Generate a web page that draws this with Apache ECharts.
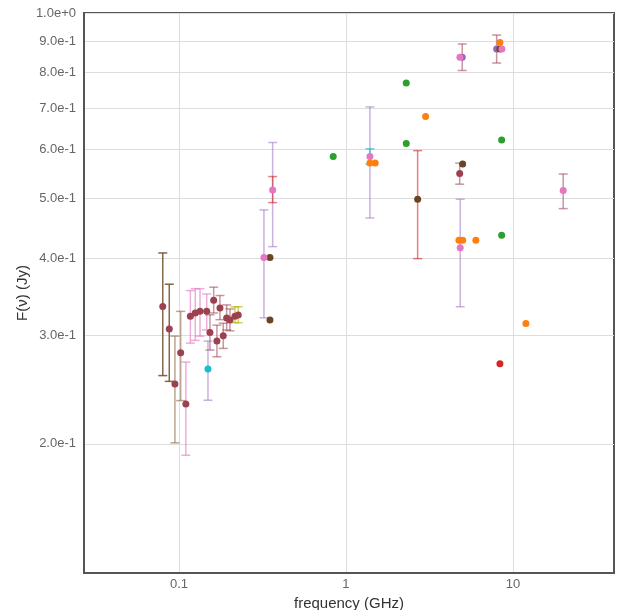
<!DOCTYPE html>
<html>
<head>
<meta charset="utf-8">
<script src="https://cdn.jsdelivr.net/npm/echarts@6/dist/echarts.min.js"></script>
<style>
  html, body { margin: 0; padding: 0; background: #fff; }
  #chart { width: 619px; height: 610px; }
</style>
</head>
<body>
<div id="chart"></div>
<script>
// tick values
var freqTicks = [0.1, 1, 10];
var fluxTicks = [0.2, 0.3, 0.4, 0.5, 0.6, 0.7, 0.8, 0.9, 1.0];

// points [frequency GHz, flux Jy]
var maroonPts = [
  [0.080, 0.334], [0.0875, 0.307], [0.0946, 0.250], [0.1024, 0.281], [0.110, 0.232],
  [0.117, 0.322], [0.1252, 0.326], [0.1337, 0.328], [0.1466, 0.328], [0.1614, 0.342],
  [0.176, 0.332], [0.1533, 0.303], [0.1688, 0.2935], [0.1842, 0.2994], [0.193, 0.320],
  [0.202, 0.3175], [0.2164, 0.322], [0.2265, 0.3235], [4.80, 0.549]
];
var purplePts = [[4.97, 0.848], [7.99, 0.874]];
var brownPts = [[0.3507, 0.401], [0.3507, 0.3175], [2.688, 0.4986], [5.0, 0.569], [8.36, 0.874]];
var pinkPts = [[0.3228, 0.401], [0.364, 0.516], [1.392, 0.585], [4.815, 0.848], [4.835, 0.416], [8.59, 0.874], [20.0, 0.515]];
var greenPts = [[0.839, 0.585], [2.297, 0.770], [2.297, 0.614], [8.56, 0.436], [8.56, 0.622]];
var orangePts = [[1.392, 0.571], [1.497, 0.571], [3.0, 0.679], [4.75, 0.428], [5.0, 0.428], [6.0, 0.428], [8.36, 0.896], [11.96, 0.3135]];
var redPts = [[8.36, 0.2697]];
var cyanPts = [[0.1492, 0.2644]];

// error bars [frequency, low, high]
var brownErr = [[0.080, 0.258, 0.408], [0.0875, 0.2525, 0.363]];
var tanErr = [[0.0946, 0.2007, 0.299], [0.1024, 0.235, 0.328]];
var pinkErr = [
  [0.110, 0.1916, 0.2714], [0.117, 0.2913, 0.3545], [0.1252, 0.2943, 0.357],
  [0.1337, 0.299, 0.357], [0.1466, 0.306, 0.350]
];
var maroonErr = [
  [0.1614, 0.326, 0.359], [0.176, 0.318, 0.348], [0.1533, 0.2838, 0.3238],
  [0.1688, 0.2768, 0.3115], [0.1842, 0.2856, 0.3138], [0.193, 0.306, 0.336],
  [0.202, 0.305, 0.331], [7.99, 0.8296, 0.9209], [4.97, 0.8067, 0.8907],
  [4.80, 0.5275, 0.5706], [20.0, 0.4815, 0.548]
];
var oliveErr = [[0.2164, 0.3144, 0.3337], [0.2265, 0.3144, 0.3337]];
var purpleErr = [
  [0.1492, 0.2353, 0.2935], [0.3228, 0.3202, 0.4791], [0.364, 0.4177, 0.6164],
  [1.392, 0.465, 0.7041], [4.835, 0.3337, 0.4986]
];
var redErr = [[0.364, 0.4924, 0.5428], [2.688, 0.3994, 0.598]];
var cyanErr = [[1.392, 0.5685, 0.602]];

function renderErr(params, api) {
  var x = api.value(0);
  var top = api.coord([x, api.value(2)]);
  var bot = api.coord([x, api.value(1)]);
  var w = 4.5;
  var st = { stroke: api.visual('color'), lineWidth: 1.5 };
  return {
    type: 'group',
    children: [
      { type: 'line', shape: { x1: top[0], y1: top[1], x2: bot[0], y2: bot[1] }, style: st },
      { type: 'line', shape: { x1: top[0] - w, y1: top[1], x2: top[0] + w, y2: top[1] }, style: st },
      { type: 'line', shape: { x1: bot[0] - w, y1: bot[1], x2: bot[0] + w, y2: bot[1] }, style: st }
    ]
  };
}

function errSeries(data, color) {
  return {
    type: 'custom',
    renderItem: renderErr,
    data: data,
    encode: { x: 0, y: [1, 2] },
    itemStyle: { color: color },
    silent: true,
    z: 2
  };
}

function ptSeries(data, color) {
  return {
    type: 'scatter',
    data: data,
    symbolSize: 7,
    itemStyle: { color: color, opacity: 1 },
    z: 3
  };
}

var myChart = echarts.init(document.getElementById('chart'));
var option = {
  animation: false,
  textStyle: { fontFamily: 'Liberation Sans' },
  grid: {
    left: 84, right: 5, top: 13, bottom: 37,
    outerBoundsMode: 'none',
    containLabel: false,
    show: true, borderColor: '#555', borderWidth: 2, backgroundColor: '#fff'
  },
  xAxis: {
    type: 'log',
    logBase: 10,
    min: 0.027,
    max: 40.3,
    name: 'frequency (GHz)',
    nameLocation: 'middle',
    nameGap: 20,
    nameTextStyle: { fontSize: 15, color: '#333' },
    axisLine: { show: true, lineStyle: { color: '#555', width: 2 } },
    axisTick: { show: false, customValues: freqTicks },
    axisLabel: {
      customValues: freqTicks,
      fontSize: 13,
      color: '#666',
      margin: 5,
      formatter: function (v) { return String(v); }
    },
    splitLine: { show: true, lineStyle: { color: '#ddd', width: 1 } }
  },
  yAxis: {
    type: 'log',
    logBase: 10,
    min: 0.1234,
    max: 1.0,
    name: 'F(ν) (Jy)',
    nameLocation: 'middle',
    nameGap: 54,
    nameMoveOverlap: false,
    nameTextStyle: { fontSize: 15, color: '#333' },
    axisLine: { show: true, lineStyle: { color: '#555', width: 2 } },
    axisTick: { show: false, customValues: fluxTicks },
    axisLabel: {
      customValues: fluxTicks,
      fontSize: 13,
      color: '#666',
      margin: 8,
      formatter: function (v) { return v.toExponential(1); }
    },
    splitLine: { show: true, lineStyle: { color: '#ddd', width: 1 } }
  },
  series: [
    errSeries(brownErr, 'rgba(110,75,40,0.85)'),
    errSeries(tanErr, 'rgba(140,105,70,0.6)'),
    errSeries(pinkErr, 'rgba(227,119,194,0.6)'),
    errSeries(maroonErr, 'rgba(155,65,80,0.55)'),
    errSeries(oliveErr, 'rgba(188,189,34,0.7)'),
    errSeries(purpleErr, 'rgba(148,103,189,0.5)'),
    errSeries(redErr, 'rgba(214,39,40,0.6)'),
    errSeries(cyanErr, 'rgba(23,190,207,0.7)'),
    ptSeries(maroonPts, '#9b4150'),
    ptSeries(cyanPts, '#17becf'),
    ptSeries(purplePts, '#9467bd'),
    ptSeries(brownPts, '#6a4424'),
    ptSeries(pinkPts, '#e377c2'),
    ptSeries(greenPts, '#2ca02c'),
    ptSeries(orangePts, '#ff7f0e'),
    ptSeries(redPts, '#d62728')
  ]
};
myChart.setOption(option);
</script>
</body>
</html>
